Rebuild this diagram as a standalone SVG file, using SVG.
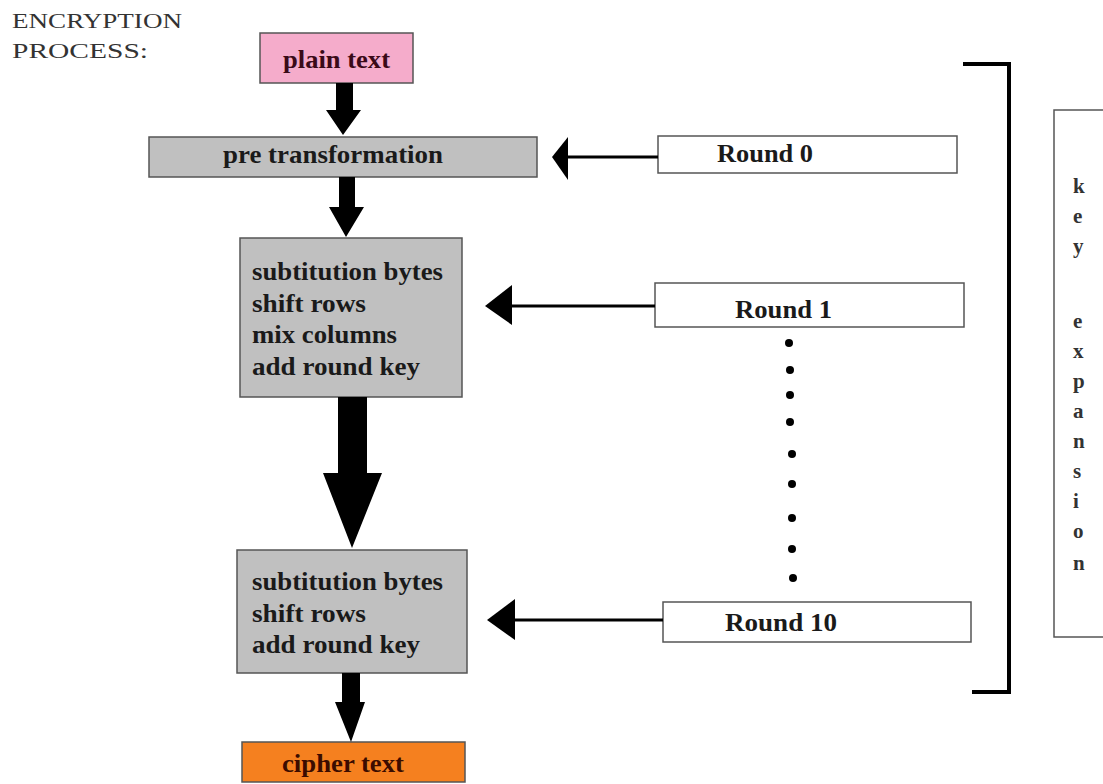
<svg xmlns="http://www.w3.org/2000/svg" width="1103" height="784" viewBox="0 0 1103 784">
<style>
.title{font-family:"Liberation Serif",serif;font-size:22px;fill:#333}
.b{font-family:"Liberation Serif",serif;font-weight:bold;font-size:25px;fill:#1a1a1a}
.k{font-family:"Liberation Serif",serif;font-weight:bold;font-size:21px;fill:#333}
.box{stroke:#555;stroke-width:1.5}
.gray{fill:#c0c0c0}
.white{fill:#fff}
.blk{fill:#000}
.ln{stroke:#000;stroke-width:3;fill:none}
</style>
<rect width="1103" height="784" fill="#fff"/>
<g id="title">
<text class="title" x="12" y="28" textLength="170" lengthAdjust="spacingAndGlyphs">ENCRYPTION</text>
<text class="title" x="12" y="58" textLength="136" lengthAdjust="spacingAndGlyphs">PROCESS:</text>
</g>
<g id="plain">
<rect class="box" x="260" y="33" width="153" height="50" fill="#f5accb"/>
<text class="b" x="283" y="68" textLength="107" lengthAdjust="spacingAndGlyphs" style="fill:#3a0a18">plain text</text>
</g>
<g id="pre">
<rect class="box gray" x="149" y="137" width="388" height="40"/>
<text class="b" x="223" y="163" textLength="220" lengthAdjust="spacingAndGlyphs">pre transformation</text>
</g>
<g id="round-main">
<rect class="box gray" x="240" y="238" width="222" height="159"/>
<text class="b" x="252" y="280" textLength="191" lengthAdjust="spacingAndGlyphs">subtitution bytes</text>
<text class="b" x="252" y="312" textLength="114" lengthAdjust="spacingAndGlyphs">shift rows</text>
<text class="b" x="252" y="343" textLength="145" lengthAdjust="spacingAndGlyphs">mix columns</text>
<text class="b" x="252" y="375" textLength="168" lengthAdjust="spacingAndGlyphs">add round key</text>
</g>
<g id="round-final">
<rect class="box gray" x="237" y="550" width="230" height="123"/>
<text class="b" x="252" y="590" textLength="191" lengthAdjust="spacingAndGlyphs">subtitution bytes</text>
<text class="b" x="252" y="622" textLength="114" lengthAdjust="spacingAndGlyphs">shift rows</text>
<text class="b" x="252" y="653" textLength="168" lengthAdjust="spacingAndGlyphs">add round key</text>
</g>
<g id="cipher">
<rect class="box" x="242" y="742" width="223" height="40" fill="#f5801f"/>
<text class="b" x="282" y="772" textLength="122" lengthAdjust="spacingAndGlyphs" style="fill:#3b0c00">cipher text</text>
</g>
<g id="round0">
<rect class="box white" x="658" y="136" width="299" height="37"/>
<text class="b" x="717" y="162" textLength="96" lengthAdjust="spacingAndGlyphs">Round 0</text>
</g>
<g id="round1">
<rect class="box white" x="655" y="283" width="309" height="44"/>
<text class="b" x="735" y="318" textLength="97" lengthAdjust="spacingAndGlyphs">Round 1</text>
</g>
<g id="round10">
<rect class="box white" x="663" y="602" width="308" height="40"/>
<text class="b" x="725" y="631" textLength="112" lengthAdjust="spacingAndGlyphs">Round 10</text>
</g>
<g id="dots" class="blk">
<circle cx="789" cy="343" r="4"/>
<circle cx="790" cy="370" r="4"/>
<circle cx="790" cy="395" r="4"/>
<circle cx="790" cy="422" r="4"/>
<circle cx="792" cy="454" r="4"/>
<circle cx="792" cy="484" r="4"/>
<circle cx="792" cy="518" r="4"/>
<circle cx="792" cy="549" r="4"/>
<circle cx="793" cy="578" r="4"/>
</g>
<g id="bracket">
<polyline points="963,64 1009,64 1009,692 972,692" fill="none" stroke="#000" stroke-width="4"/>
</g>
<g id="key-expansion">
<rect class="box white" x="1054" y="110" width="60" height="527"/>
<text class="k" x="1073" y="193">k</text>
<text class="k" x="1073" y="223">e</text>
<text class="k" x="1073" y="253">y</text>
<text class="k" x="1073" y="328">e</text>
<text class="k" x="1073" y="358">x</text>
<text class="k" x="1073" y="388">p</text>
<text class="k" x="1073" y="418">a</text>
<text class="k" x="1073" y="448">n</text>
<text class="k" x="1073" y="478">s</text>
<text class="k" x="1073" y="508">i</text>
<text class="k" x="1073" y="538">o</text>
<text class="k" x="1073" y="570">n</text>
</g>
<g id="connectors">
<polygon class="blk" points="336,83 353,83 353,110 361,110 343,135 326,110 336,110"/>
<polygon class="blk" points="339,177 355,177 355,207 364,207 346,237 329,207 339,207"/>
<polygon class="blk" points="338,397 367,397 367,473 382,473 352,548 323,473 338,473"/>
<polygon class="blk" points="342,673 360,673 360,702 365,702 351,742 335,702 342,702"/>
<line class="ln" x1="658" y1="157" x2="566" y2="157"/>
<polygon class="blk" points="552,157 568,137 568,180"/>
<line class="ln" x1="655" y1="306" x2="510" y2="306"/>
<polygon class="blk" points="485,306 512,285 512,325"/>
<line class="ln" x1="663" y1="620" x2="513" y2="620"/>
<polygon class="blk" points="487,620 515,599 515,640"/>
</g>
</svg>
